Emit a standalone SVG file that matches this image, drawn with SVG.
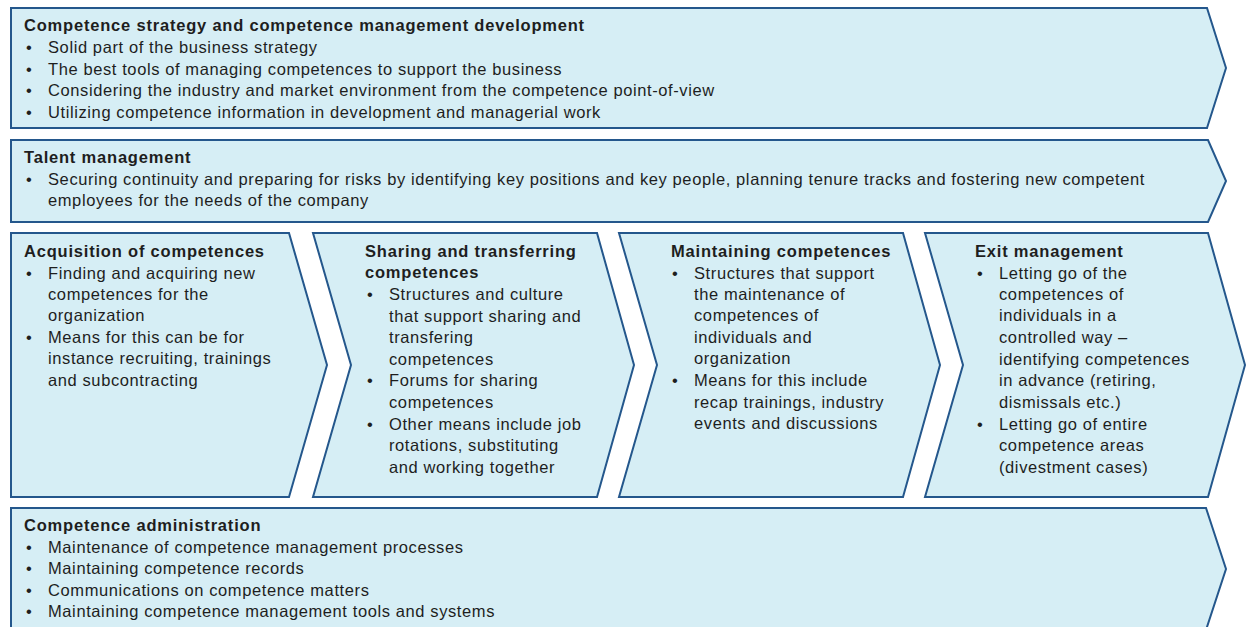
<svg xmlns="http://www.w3.org/2000/svg" width="1248" height="627" viewBox="0 0 1248 627">
<style>
.shape{fill:#d6eef5;stroke:#24578c;stroke-width:2;stroke-linejoin:miter}
text{font-family:"Liberation Sans",Arial,sans-serif;font-size:16.5px;letter-spacing:0.6px;fill:#1e1e1e}
.t{font-weight:bold;letter-spacing:0.8px}
</style>
<rect width="1248" height="627" fill="#ffffff"/>
<g id="strategy">
<path class="shape" d="M11,8 L1207,8 L1226,68 L1207,128 L11,128 Z"/>
<text class="t" x="24" y="31">Competence strategy and competence management development</text>
<text x="26" y="53">•</text><text x="48" y="53">Solid part of the business strategy</text>
<text x="26" y="75">•</text><text x="48" y="75">The best tools of managing competences to support the business</text>
<text x="26" y="96">•</text><text x="48" y="96">Considering the industry and market environment from the competence point-of-view</text>
<text x="26" y="118">•</text><text x="48" y="118">Utilizing competence information in development and managerial work</text>
</g>
<g id="talent">
<path class="shape" d="M11,140 L1208,140 L1226,181 L1208,222 L11,222 Z"/>
<text class="t" x="24" y="163">Talent management</text>
<text x="26" y="185">•</text><text x="48" y="185">Securing continuity and preparing for risks by identifying key positions and key people, planning tenure tracks and fostering new competent</text>
<text x="48" y="206">employees for the needs of the company</text>
</g>
<g id="acquisition">
<path class="shape" d="M11,233 L289,233 L327,365 L289,497 L11,497 Z"/>
<text class="t" x="24" y="257">Acquisition of competences</text>
<text x="26" y="279">•</text><text x="48" y="279">Finding and acquiring new</text>
<text x="48" y="300">competences for the</text>
<text x="48" y="321">organization</text>
<text x="26" y="343">•</text><text x="48" y="343">Means for this can be for</text>
<text x="48" y="364">instance recruiting, trainings</text>
<text x="48" y="386">and subcontracting</text>
</g>
<g id="sharing">
<path class="shape" d="M313,233 L597,233 L634,365 L597,497 L313,497 L351,365 Z"/>
<text class="t" x="365" y="257">Sharing and transferring</text>
<text class="t" x="365" y="278">competences</text>
<text x="367" y="300">•</text><text x="389" y="300">Structures and culture</text>
<text x="389" y="322">that support sharing and</text>
<text x="389" y="343">transfering</text>
<text x="389" y="365">competences</text>
<text x="367" y="386">•</text><text x="389" y="386">Forums for sharing</text>
<text x="389" y="408">competences</text>
<text x="367" y="430">•</text><text x="389" y="430">Other means include job</text>
<text x="389" y="451">rotations, substituting</text>
<text x="389" y="473">and working together</text>
</g>
<g id="maintaining">
<path class="shape" d="M619,233 L903,233 L940,365 L903,497 L619,497 L657,365 Z"/>
<text class="t" x="671" y="257">Maintaining competences</text>
<text x="672" y="279">•</text><text x="694" y="279">Structures that support</text>
<text x="694" y="300">the maintenance of</text>
<text x="694" y="321">competences of</text>
<text x="694" y="343">individuals and</text>
<text x="694" y="364">organization</text>
<text x="672" y="386">•</text><text x="694" y="386">Means for this include</text>
<text x="694" y="408">recap trainings, industry</text>
<text x="694" y="429">events and discussions</text>
</g>
<g id="exit">
<path class="shape" d="M925,233 L1208,233 L1245,365 L1208,497 L925,497 L963,365 Z"/>
<text class="t" x="975" y="257">Exit management</text>
<text x="977" y="279">•</text><text x="999" y="279">Letting go of the</text>
<text x="999" y="300">competences of</text>
<text x="999" y="321">individuals in a</text>
<text x="999" y="343">controlled way –</text>
<text x="999" y="365">identifying competences</text>
<text x="999" y="386">in advance (retiring,</text>
<text x="999" y="408">dismissals etc.)</text>
<text x="977" y="430">•</text><text x="999" y="430">Letting go of entire</text>
<text x="999" y="451">competence areas</text>
<text x="999" y="473">(divestment cases)</text>
</g>
<g id="administration">
<path class="shape" d="M11,508 L1206,508 L1226,569 L1206,630 L11,630 Z"/>
<text class="t" x="24" y="531">Competence administration</text>
<text x="26" y="553">•</text><text x="48" y="553">Maintenance of competence management processes</text>
<text x="26" y="574">•</text><text x="48" y="574">Maintaining competence records</text>
<text x="26" y="596">•</text><text x="48" y="596">Communications on competence matters</text>
<text x="26" y="617">•</text><text x="48" y="617">Maintaining competence management tools and systems</text>
</g>
<g id="connectors"></g>
</svg>
